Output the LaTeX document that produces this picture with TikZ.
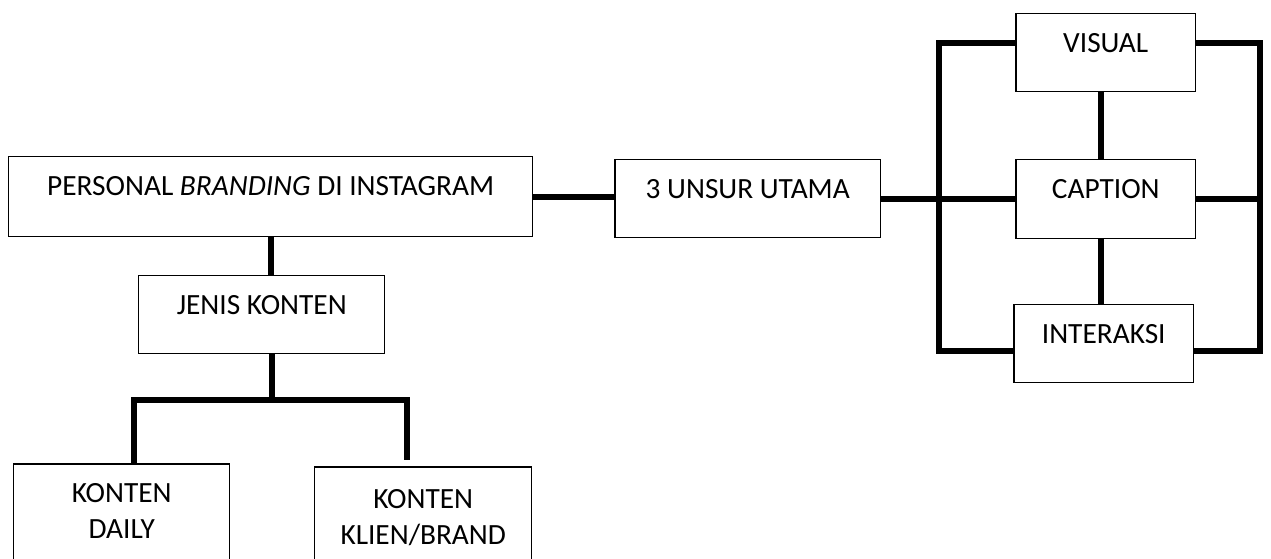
\documentclass[tikz,border=0pt]{standalone}
\usepackage{fontspec}
\setmainfont{Carlito}
\usepackage{tikz}

\begin{document}
\begin{tikzpicture}[
    x=0.02cm, y=-0.02cm,
    box/.style={rectangle, draw, line width=0.85pt, anchor=north west, inner sep=0pt, align=center,
        font=\fontsize{16.7}{20.5}\selectfont, text height=0.78cm, text depth=0.78cm, minimum height=1.56cm},
    line/.style={line width=3.2pt}
]
\clip (0,0) rectangle (1271,558);

% Kotak utama
\node[box, minimum width=10.48cm, minimum height=1.6cm, text depth=0.82cm] (personal) at (8,156) {PERSONAL \textit{BRANDING} DI INSTAGRAM};
\node[box, minimum width=5.32cm] (unsur) at (614,159) {3 UNSUR UTAMA};
\node[box, minimum width=4.92cm] (jenis) at (138,275) {JENIS KONTEN};

% Tiga unsur
\node[box, minimum width=3.6cm] (visual) at (1015,13) {VISUAL};
\node[box, minimum width=3.6cm, minimum height=1.58cm, text depth=0.8cm] (caption) at (1015,159) {CAPTION};
\node[box, minimum width=3.6cm] (interaksi) at (1013,304) {INTERAKSI};

% Jenis konten
\node[box, minimum width=4.32cm, minimum height=2.8cm, text height=1.5cm, text depth=1.3cm] (daily) at (13,463) {KONTEN\\DAILY};
\node[box, minimum width=4.34cm, minimum height=2.8cm, text height=1.56cm, text depth=1.24cm] (klien) at (314,466) {KONTEN\\KLIEN/BRAND};

% Titik cabang
\coordinate (lbar) at (939,198);
\coordinate (rbar) at (1260,200);
\coordinate (split) at (272,400);

% Garis penghubung
\draw[line] (personal.east) -- (personal.east -| unsur.west);
\draw[line] (unsur.east) -- (unsur.east -| caption.west);
\draw[line] ([yshift=0.2cm]visual.west) -| (lbar) |- ([yshift=-0.14cm]interaksi.west);
\draw[line] ([yshift=0.2cm]visual.east) -| (rbar) |- ([yshift=-0.14cm]interaksi.east);
\draw[line] (caption.east) -- (caption.east -| rbar);
\draw[line] ([xshift=-0.1cm]visual.south) -- ([xshift=-0.1cm]caption.north);
\draw[line] ([xshift=-0.1cm]caption.south) -- ([xshift=-0.1cm]caption.south |- interaksi.north);
\draw[line] (personal.south) -- (personal.south |- jenis.north);
\draw[line] (jenis.south -| split) -- (split);
\draw[line] ([xshift=0.24cm]daily.north) |- (split) -| ([xshift=-0.33cm, yshift=0.12cm]klien.north);
\end{tikzpicture}
\end{document}
